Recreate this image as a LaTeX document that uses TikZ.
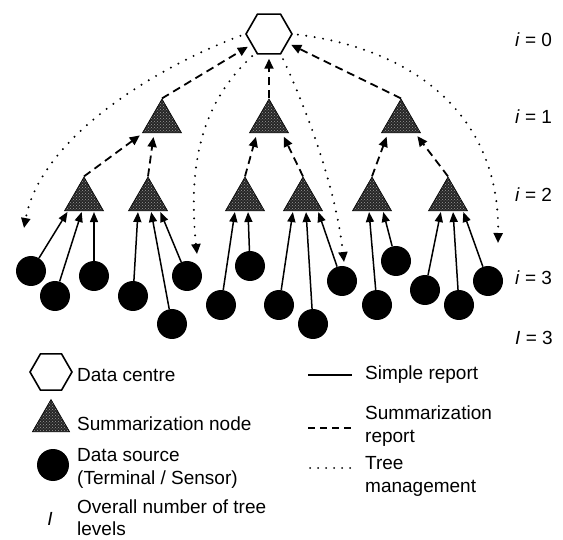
\documentclass[tikz,border=0pt]{standalone}
\usepackage{fontspec}
\setmainfont{Liberation Sans}
\usetikzlibrary{shapes.geometric,arrows.meta,patterns}
\begin{document}
\begin{tikzpicture}
  [
    x=1pt, y=-1pt,
    font=\fontsize{19}{23}\selectfont,
    hex/.style={regular polygon, regular polygon sides=6, minimum size=46pt,
      inner sep=0pt, draw=black, line width=1.6pt, fill=white},
    sum/.style={regular polygon, regular polygon sides=3, minimum size=45pt,
      inner sep=0pt, draw=black, line width=0.6pt, preaction={fill=black!85},
      pattern=crosshatch dots, pattern color=black!40},
    src/.style={circle, minimum size=30pt, inner sep=0pt, fill=black},
    lbl/.style={anchor=west, align=left, inner sep=0pt},
    sr/.style={draw=black, line width=1.5pt, shorten >=1pt,
      -{Triangle[length=10pt,width=8pt]}},
    smr/.style={draw=black, line width=1.8pt, dash pattern=on 8pt off 5pt,
      shorten >=4pt, -{Triangle[length=10pt,width=9pt]}},
    tm/.style={draw=black, line width=2.2pt, line cap=round,
      dash pattern=on 0pt off 8.5pt, shorten <=5pt,
      -{Triangle[length=10pt,width=9pt]}}
  ]
  \useasboundingbox (0,0) rectangle (563,540);

  \node (dc) at (269,34) [hex] {};
  \node (s1) at (162,121.5) [sum] {};
  \node (s2) at (269,121.5) [sum] {};
  \node (s3) at (401,121.5) [sum] {};
  \node (t1) at (84,199.5) [sum] {};
  \node (t2) at (148,199.5) [sum] {};
  \node (t3) at (245,199.5) [sum] {};
  \node (t4) at (303,199.5) [sum] {};
  \node (t5) at (372,199.5) [sum] {};
  \node (t6) at (448,199.5) [sum] {};

  \node (d1) at (31,271) [src] {};
  \node (d2) at (55,296) [src] {};
  \node (d3) at (94,276) [src] {};
  \node (d4) at (133,296) [src] {};
  \node (d5) at (172,324) [src] {};
  \node (d6) at (187,276) [src] {};
  \node (d7) at (221,305) [src] {};
  \node (d8) at (250,266) [src] {};
  \node (d9) at (279,305) [src] {};
  \node (d10) at (313,324) [src] {};
  \node (d11) at (342,281) [src] {};
  \node (d12) at (377,305) [src] {};
  \node (d13) at (396,261) [src] {};
  \node (d14) at (425,290) [src] {};
  \node (d15) at (459,305) [src] {};
  \node (d16) at (488,281) [src] {};

  \draw [sr] (d1) -- ([xshift=-16pt]t1.south);
  \draw [sr] (d2) -- ([xshift=-2pt]t1.south);
  \draw [sr] (d3) -- ([xshift=10pt]t1.south);
  \draw [sr] (d4) -- ([xshift=-10pt]t2.south);
  \draw [sr] (d5) -- ([xshift=3pt]t2.south);
  \draw [sr] (d6) -- ([xshift=12pt]t2.south);
  \draw [sr] (d7) -- ([xshift=-10pt]t3.south);
  \draw [sr] (d8) -- ([xshift=3pt]t3.south);
  \draw [sr] (d9) -- ([xshift=-10pt]t4.south);
  \draw [sr] (d10) -- ([xshift=3pt]t4.south);
  \draw [sr] (d11) -- ([xshift=15pt]t4.south);
  \draw [sr] (d12) -- ([xshift=-3pt]t5.south);
  \draw [sr] (d13) -- ([xshift=11pt]t5.south);
  \draw [sr] (d14) -- ([xshift=-7pt]t6.south);
  \draw [sr] (d15) -- ([xshift=5pt]t6.south);
  \draw [sr] (d16) -- ([xshift=15pt]t6.south);

  \draw [smr] (t1.north) -- ([xshift=-19pt]s1.south);
  \draw [smr] (t2.north) -- ([xshift=-8pt]s1.south);
  \draw [smr] (t3.north) -- ([xshift=-12pt]s2.south);
  \draw [smr] (t4.north) -- ([xshift=13pt]s2.south);
  \draw [smr] (t5.north) -- ([xshift=-13pt]s3.south);
  \draw [smr] (t6.north) -- ([xshift=14pt]s3.south);
  \draw [smr] (s1.north) -- (dc);
  \draw [smr] (s2.north) -- (dc);
  \draw [smr] (s3.north) -- (dc);

  \coordinate (m1) at (24,228);
  \coordinate (m2) at (197,254);
  \coordinate (m3) at (344,262);
  \coordinate (m4) at (498,243);
  \draw [tm] (dc.west) .. controls (150,70) and (40,140) .. (m1);
  \draw [tm] (dc.235) .. controls (210,95) and (186,150) .. (m2);
  \draw [tm] (dc.300) .. controls (300,95) and (335,180) .. (m3);
  \draw [tm] (dc.east) .. controls (420,50) and (500,120) .. (m4);

  \node (i0) at (515,40) [lbl] {\textit{i} = 0};
  \node (i1) at (515,117) [lbl] {\textit{i} = 1};
  \node (i2) at (515,195) [lbl] {\textit{i} = 2};
  \node (i3) at (515,278) [lbl] {\textit{i} = 3};
  \node (il) at (515,338) [lbl] {\textit{I} = 3};

  \node (ldc) at (51,372) [hex, minimum size=42pt] {};
  \node (tdc) at (77,375) [lbl] {Data centre};
  \node (lsum) at (51,421) [sum, minimum size=43pt] {};
  \node (tsum) at (77,424) [lbl] {Summarization node};
  \node (lsrc) at (53,465) [src, minimum size=32pt] {};
  \node (tsrc) at (77,468) [lbl] {Data source\\(Terminal / Sensor)};
  \node (llev) at (50,519) {\textit{I}};
  \node (tlev) at (77,518) [lbl, font=\fontsize{19}{22}\selectfont] {Overall number of tree\\levels};

  \coordinate (a1) at (308,375);
  \coordinate (a2) at (352,375);
  \coordinate (b1) at (308,428);
  \coordinate (b2) at (352,428);
  \coordinate (c1) at (310,468);
  \coordinate (c2) at (352,468);
  \draw [sr, -, shorten >=0pt] (a1) -- (a2);
  \draw [smr, -, shorten >=0pt, line width=1.5pt, dash pattern=on 7pt off 5pt] (b1) -- (b2);
  \draw [tm, -, shorten <=0pt, line width=2pt, dash pattern=on 0pt off 8pt] (c1) -- (c2);
  \node (tsr) at (365,375) [lbl] {Simple report};
  \node (tsmr) at (365,426) [lbl] {Summarization\\report};
  \node (ttm) at (365,476) [lbl] {Tree\\management};
\end{tikzpicture}
\end{document}
